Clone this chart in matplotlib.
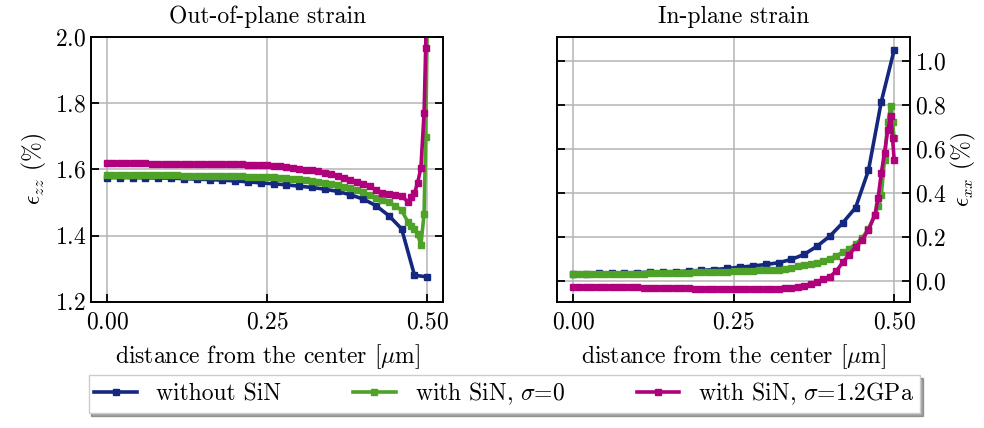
import numpy as np
import matplotlib
matplotlib.use('Agg')
import matplotlib.pyplot as plt

plt.rcParams['font.family'] = 'serif'
plt.rcParams['font.serif'] = ['cmr10']
plt.rcParams['mathtext.fontset'] = 'cm'
plt.rcParams['axes.formatter.use_mathtext'] = True
plt.rcParams['font.size'] = 17

# sample positions (um)
x_coarse = [0.00, 0.02, 0.04, 0.06, 0.08, 0.10, 0.12, 0.14, 0.16, 0.18,
            0.20, 0.22, 0.24, 0.26, 0.28, 0.30, 0.32, 0.34, 0.36, 0.38,
            0.40, 0.42, 0.44, 0.46, 0.48, 0.50]
x_fine = [0.00, 0.01, 0.02, 0.03, 0.04, 0.05, 0.06, 0.07, 0.08, 0.09,
          0.10, 0.11, 0.12, 0.13, 0.14, 0.15, 0.16, 0.17, 0.18, 0.19,
          0.20, 0.21, 0.22, 0.23, 0.24, 0.25, 0.26, 0.27, 0.28, 0.29,
          0.30, 0.31, 0.32, 0.33, 0.34, 0.35, 0.36, 0.37, 0.38, 0.39,
          0.40, 0.41, 0.42, 0.43, 0.44, 0.45, 0.46, 0.47, 0.475, 0.48,
          0.485, 0.49, 0.495, 0.4975, 0.50]

# out-of-plane strain (%)
ezz_noSiN = [1.575, 1.575, 1.575, 1.574, 1.574, 1.573, 1.572, 1.570, 1.569, 1.567,
             1.565, 1.562, 1.559, 1.556, 1.553, 1.549, 1.545, 1.540, 1.533, 1.523,
             1.510, 1.490, 1.460, 1.420, 1.280, 1.275]
ezz_SiN0 = [1.583, 1.583, 1.583, 1.583, 1.583, 1.583, 1.582, 1.582, 1.582, 1.582,
            1.582, 1.582, 1.581, 1.581, 1.581, 1.581, 1.580, 1.580, 1.580, 1.579,
            1.579, 1.579, 1.578, 1.578, 1.577, 1.577, 1.576, 1.575, 1.574, 1.572,
            1.570, 1.567, 1.564, 1.562, 1.559, 1.556, 1.552, 1.547, 1.542, 1.536,
            1.530, 1.522, 1.514, 1.507, 1.500, 1.490, 1.476, 1.440, 1.430, 1.420,
            1.405, 1.370, 1.466, 1.697, 2.050]
ezz_SiN12 = [1.618, 1.618, 1.618, 1.618, 1.618, 1.618, 1.618, 1.617, 1.617, 1.617,
             1.617, 1.617, 1.617, 1.617, 1.617, 1.616, 1.616, 1.616, 1.616, 1.615,
             1.615, 1.615, 1.614, 1.614, 1.613, 1.612, 1.611, 1.609, 1.607, 1.605,
             1.602, 1.599, 1.597, 1.594, 1.590, 1.587, 1.581, 1.575, 1.568, 1.561,
             1.555, 1.548, 1.538, 1.528, 1.525, 1.522, 1.518, 1.502, 1.515, 1.527,
             1.560, 1.603, 1.770, 1.965, 2.300]

# in-plane strain (%)
exx_noSiN = [0.033, 0.034, 0.035, 0.036, 0.037, 0.038, 0.040, 0.041, 0.043, 0.045,
             0.048, 0.052, 0.057, 0.063, 0.068, 0.075, 0.083, 0.098, 0.121, 0.158,
             0.204, 0.264, 0.333, 0.502, 0.814, 1.048]
exx_SiN0 = [0.032, 0.032, 0.032, 0.032, 0.032, 0.033, 0.033, 0.033, 0.033, 0.034,
            0.034, 0.034, 0.035, 0.035, 0.036, 0.036, 0.037, 0.037, 0.038, 0.039,
            0.040, 0.040, 0.041, 0.042, 0.043, 0.044, 0.045, 0.046, 0.047, 0.048,
            0.049, 0.050, 0.052, 0.055, 0.060, 0.066, 0.072, 0.078, 0.084, 0.092,
            0.102, 0.115, 0.130, 0.145, 0.168, 0.195, 0.235, 0.300, 0.340, 0.390,
            0.550, 0.720, 0.795, 0.720, 0.650]
exx_SiN12 = [-0.026, -0.026, -0.027, -0.027, -0.027, -0.028, -0.028, -0.028, -0.029, -0.029,
             -0.029, -0.030, -0.030, -0.031, -0.031, -0.032, -0.032, -0.033, -0.033, -0.034,
             -0.034, -0.035, -0.035, -0.035, -0.036, -0.036, -0.037, -0.037, -0.037, -0.037,
             -0.036, -0.035, -0.034, -0.033, -0.031, -0.027, -0.021, -0.013, -0.003, 0.008,
             0.020, 0.045, 0.085, 0.120, 0.155, 0.185, 0.232, 0.300, 0.376, 0.490,
             0.580, 0.686, 0.750, 0.650, 0.550]

labels = ['without SiN', r'with SiN, $\sigma$=0', r'with SiN, $\sigma$=1.2GPa']
colors = ['#14287f', '#4ea227', '#b1007c']

fig = plt.figure(figsize=(9.84, 4.28), dpi=100)
ax1 = fig.add_axes([0.0925, 0.295, 0.358, 0.619])
ax2 = fig.add_axes([0.566, 0.295, 0.359, 0.619])

style = dict(lw=2.6, marker='s', ms=5)

ax1.plot(x_coarse, ezz_noSiN, color=colors[0], label=labels[0], **style)
ax1.plot(x_fine, ezz_SiN0, color=colors[1], label=labels[1], **style)
ax1.plot(x_fine, ezz_SiN12, color=colors[2], label=labels[2], **style)

ax2.plot(x_coarse, exx_noSiN, color=colors[0], **style)
ax2.plot(x_fine, exx_SiN0, color=colors[1], **style)
ax2.plot(x_fine, exx_SiN12, color=colors[2], **style)

ax1.set_ylim(1.2, 2.0)
ax1.set_yticks([1.2, 1.4, 1.6, 1.8, 2.0])
ax1.set_ylabel(r'$\epsilon_{zz}$ (%)')
ax1.set_title('Out-of-plane strain', fontsize=17, pad=10)

ax2.set_ylim(-0.094, 1.108)
ax2.set_yticks([0.0, 0.2, 0.4, 0.6, 0.8, 1.0])
ax2.yaxis.tick_right()
ax2.yaxis.set_label_position('right')
ax2.set_ylabel(r'$\epsilon_{xx}$ (%)', labelpad=2)
ax2.set_title('In-plane strain', fontsize=17, pad=10)

for ax in (ax1, ax2):
    ax.set_xlim(-0.025, 0.525)
    ax.set_xticks([0.0, 0.25, 0.5])
    ax.set_xlabel(r'distance from the center [$\mu$m]', labelpad=6)
    ax.grid(True, color='#b4b4b4', lw=1.1)
    ax.set_axisbelow(True)
    ax.tick_params(direction='in', length=6, width=1.3, left=True, right=True,
                   labelsize=17)
    ax.tick_params(axis='x', pad=7)
    for s in ax.spines.values():
        s.set_linewidth(1.4)

fig.legend(loc='lower left', bbox_to_anchor=(0.09, 0.035, 0.845, 0.08),
           mode='expand', ncol=3, fontsize=17, shadow=True, fancybox=False,
           framealpha=1, edgecolor='#cccccc', handlelength=1.8, borderaxespad=0,
           borderpad=0.25)

fig.savefig('out.png', dpi=100)
